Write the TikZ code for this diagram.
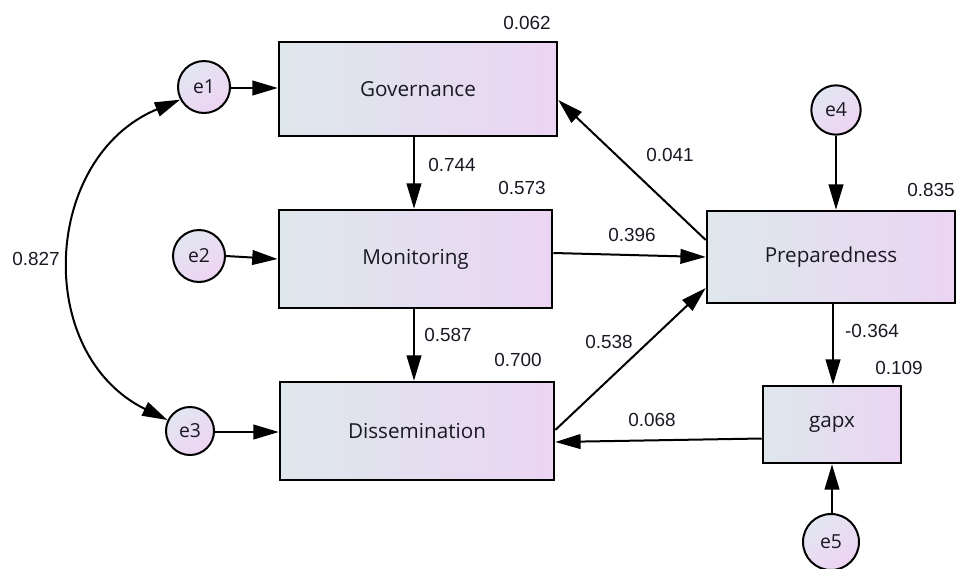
\documentclass[tikz,border=0pt]{standalone}
\usepackage{fontspec}
\setmainfont{Liberation Sans}
\newfontfamily\boxfont{Open Sans}
\usetikzlibrary{arrows.meta,calc}
\definecolor{boxL}{RGB}{222,231,236}
\definecolor{boxR}{RGB}{235,213,243}
\definecolor{errA}{RGB}{226,230,242}
\definecolor{errB}{RGB}{238,212,242}
\definecolor{txt}{RGB}{25,25,35}
\begin{document}
\begin{tikzpicture}[x=0.75pt,y=-0.75pt,
  var/.style={draw=black, line width=1.9pt, left color=boxL, right color=boxR,
    inner sep=0pt, font=\boxfont\fontsize{15.5}{18}\selectfont, text=txt},
  err/.style={circle, draw=black, line width=1.5pt, inner sep=0pt, minimum size=#1,
    top color=errA, bottom color=errB, shading angle=35,
    font=\boxfont\fontsize{14.5}{17}\selectfont, text=txt},
  arr/.style={line width=1.5pt, -{Triangle[length=19pt,width=11pt]}},
  arrb/.style={line width=1.5pt, {Triangle[length=19pt,width=11pt]}-{Triangle[length=19pt,width=11pt]}},
  num/.style={font=\fontsize{14.2}{16}\selectfont, text=txt, inner sep=0pt}]
\useasboundingbox (0,0) rectangle (957,568);

% variables
\node[var, minimum width=208.5pt, minimum height=70.5pt] (gov) at (418,89) {Governance};
\node[var, minimum width=205pt, minimum height=73.5pt] (mon) at (415.5,259) {Monitoring};
\node[var, minimum width=205.5pt, minimum height=73.5pt] (dis) at (417,431) {Dissemination};
\node[var, minimum width=186pt, minimum height=69pt] (prep) at (831,257) {Preparedness};
\node[var, minimum width=103.5pt, minimum height=57.75pt] (gapx) at (832,424.5) {gapx};

% errors
\node[err=39pt] (e1) at (204,87) {e1};
\node[err=39pt] (e2) at (199,256) {e2};
\node[err=36pt] (e3) at (190,431) {e3};
\node[err=37pt] (e4) at (836,110) {e4};
\node[err=42pt] (e5) at (831,542) {e5};

% helper coordinates
\coordinate (vx) at (414,0);
\coordinate (vp) at (833,0);
\coordinate (v4) at (836,0);
\coordinate (v5) at (832,0);

% paths
\draw[arr] (e1.east |- 0,88) -- (gov.west |- 0,88);
\draw[arr] (e2.east) -- ($(mon.west)+(0,0)$);
\draw[arr] (e3.east |- 0,432) -- (dis.west |- 0,432);
\draw[arr] (gov.south -| vx) -- (mon.north -| vx);
\draw[arr] (mon.south -| vx) -- (dis.north -| vx);
\draw[arr] ($(mon.east)+(0,-6)$) -- (prep.west);
\draw[arr] ($(prep.west)+(0,-17)$) -- ($(gov.east)+(0,11)$);
\draw[arr] ($(dis.east)+(0,-1)$) -- ($(prep.west)+(0,31)$);
\draw[arr] ($(gapx.west)+(0,14)$) -- ($(dis.east)+(0,11)$);
\draw[arr] (prep.south -| vp) -- (gapx.north -| vp);
\draw[arr] (e4.south -| v4) -- (prep.north -| v4);
\draw[arr] (e5.north -| v5) -- (gapx.south -| v5);
\draw[arrb] (e1.208) .. controls (42,157) and (33,354) .. (e3.154);

% labels
\node[num] (l1) at (527,23) {0.062};
\node[num] (l2) at (452,165) {0.744};
\node[num] (l3) at (522,188) {0.573};
\node[num] (l4) at (670,155) {0.041};
\node[num] (l5) at (632,235) {0.396};
\node[num] (l6) at (931,190) {0.835};
\node[num] (l7) at (36,259) {0.827};
\node[num] (l8) at (448,335) {0.587};
\node[num] (l9) at (518,360) {0.700};
\node[num] (l10) at (609,342) {0.538};
\node[num] (l11) at (872,331) {-0.364};
\node[num] (l12) at (899,368) {0.109};
\node[num] (l13) at (652,420) {0.068};
\end{tikzpicture}
\end{document}
